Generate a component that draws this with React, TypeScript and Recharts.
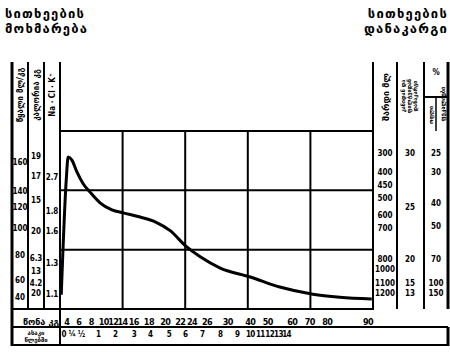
import React from "react";
import { ComposedChart, Line, XAxis, YAxis, ReferenceLine, ReferenceArea, Customized } from "recharts";

// Curve (grid units: x 0..5 columns, y 0..3 rows)
const curveX = [0.02, 0.1, 0.13, 0.19, 0.27, 0.37, 0.48, 0.64, 0.83, 1.01, 1.28, 1.52, 1.76, 2.01, 2.24, 2.56, 3.04, 3.51, 4.04, 4.47, 4.98];
const curveY = [0.24, 2.18, 2.56, 2.51, 2.31, 2.11, 1.97, 1.79, 1.67, 1.62, 1.55, 1.47, 1.32, 1.06, 0.88, 0.69, 0.54, 0.37, 0.25, 0.2, 0.17];

// Bottom scales
const weightLabels = ["4", "6", "8", "10", "12", "14", "16", "18", "20", "22", "24", "26", "30", "40", "50", "60", "70", "80", "90"];
const weightPos = [0.11, 0.3, 0.5, 0.7, 0.85, 1.0, 1.18, 1.42, 1.68, 1.92, 2.11, 2.35, 2.68, 3.04, 3.32, 3.71, 3.99, 4.27, 4.92];
const ageLabels = ["0", "¼", "½", "1", "2", "3", "4", "5", "6", "7", "8", "9", "10", "11", "12", "13", "14"];
const agePos = [0.06, 0.19, 0.34, 0.61, 0.88, 1.18, 1.44, 1.74, 2.0, 2.27, 2.56, 2.83, 3.04, 3.2, 3.35, 3.49, 3.62];

// Left scales
const waterLabels = ["160", "140", "120", "100", "80", "60", "40"];
const waterPos = [2.48, 1.99, 1.72, 1.37, 0.91, 0.49, 0.2];
const calLabels = ["19", "17", "15", "20", "6.3", "13", "4.2", "20"];
const calPos = [2.58, 2.24, 1.84, 1.31, 0.86, 0.64, 0.44, 0.27];
const ionLabels = ["2.7", "1.8", "1.6", "1.3", "1.1"];
const ionPos = [2.22, 1.65, 1.31, 0.78, 0.25];

// Right scales
const urineLabels = ["300", "400", "450", "500", "600", "700", "800", "1000", "1100", "1200"];
const urinePos = [2.63, 2.31, 2.09, 1.87, 1.58, 1.37, 0.84, 0.67, 0.44, 0.27];
const lossLabels = ["30", "25", "20", "15", "13"];
const lossPos = [2.63, 1.72, 0.84, 0.44, 0.27];
const pctLabels = ["25", "30", "40", "50", "70", "100", "150"];
const pctPos = [2.63, 2.31, 1.79, 1.4, 0.84, 0.44, 0.27];

const gridX = [1, 2, 3, 4];
const gridY = [1, 2];

const data = curveX.map((x, i) => ({ x, y: curveY[i] }));

const FONT = "'DejaVu Sans Condensed', 'DejaVu Sans', sans-serif";
const GEO = "'DejaVu Sans', sans-serif";

const label = (pos: number[], labels: string[], v: number) => {
  const i = pos.findIndex((p) => Math.abs(p - v) < 1e-9);
  return i >= 0 ? labels[i] : "";
};

const makeYTick = (cx: number, pos: number[], labels: string[]) => (p: any) => (
  <text x={cx} y={p.y} dy={3} textAnchor="middle" fontFamily={FONT} fontWeight={700} fontSize={8} fill="#000">
    {label(pos, labels, p.payload.value)}
  </text>
);

const makeXTick = (dy: number, size: number, pos: number[], labels: string[]) => (p: any) => (
  <text x={p.x} y={p.y} dy={dy} textAnchor="middle" fontFamily={FONT} fontWeight={700} fontSize={size} letterSpacing={-0.6} fill="#000">
    {label(pos, labels, p.payload.value)}
  </text>
);

const Frame = () => {
  const ln = (x1: number, y1: number, x2: number, y2: number, w = 2) => (
    <line x1={x1} y1={y1} x2={x2} y2={y2} stroke="#000" strokeWidth={w} />
  );
  const rot = (x: number, y: number, text: string, size: number, font = GEO) => (
    <text x={x} y={y} transform={`rotate(-90 ${x} ${y})`} textAnchor="middle" fontFamily={font} fontWeight={700} fontSize={size} fill="#000">
      {text}
    </text>
  );
  const title = { fontFamily: GEO, fontWeight: 700, fontSize: 13, letterSpacing: 1.2, fill: "#000" } as const;
  return (
    <g>
      {/* titles */}
      <text x={5} y={18} {...title}>სითხეების</text>
      <text x={5} y={33} {...title}>მოხმარება</text>
      <text x={448} y={18} textAnchor="end" {...title}>სითხეების</text>
      <text x={448} y={33} textAnchor="end" {...title}>დანაკარგი</text>
      {/* column frame */}
      {ln(12, 62, 12, 346, 3)}
      {ln(28, 62, 28, 309)}
      {ln(44, 62, 44, 309)}
      {ln(60, 62, 60, 346)}
      {ln(373, 62, 373, 309)}
      {ln(397, 62, 397, 309)}
      {ln(424, 62, 424, 309)}
      {ln(448, 62, 448, 309, 3)}
      {ln(448, 327, 448, 346, 3)}
      {ln(12, 309, 373, 309)}
      {ln(12, 327, 448, 327)}
      {ln(12, 345, 448, 345)}
      {ln(424, 97, 448, 97)}
      {ln(436, 97, 436, 131, 1.5)}
      {/* left headers */}
      {rot(23, 95, "წყალი მლ/კგ", 8)}
      {rot(39, 95, "კალორია კგ", 8)}
      {rot(55, 95, "Na · Cl · K⁺", 8, FONT)}
      {/* right headers */}
      {rot(389, 97, "შარდი მლ", 9)}
      {rot(405, 96, "კანიდან და", 5.5)}
      {rot(411, 96, "ფილტვიდან", 5.5)}
      {rot(417, 96, "დანაკარგი", 5.5)}
      <text x={436} y={75} textAnchor="middle" fontFamily={FONT} fontWeight={700} fontSize={8} fill="#000">%</text>
      {rot(433, 115, "ოფლი", 5.5)}
      {rot(445, 104, "ფეკალიები", 6)}
      {/* bottom labels */}
      <text x={41} y={325} textAnchor="middle" fontFamily={GEO} fontWeight={700} fontSize={9} fill="#000">წონა კგ</text>
      <text x={36} y={335} textAnchor="middle" fontFamily={GEO} fontWeight={700} fontSize={6} fill="#000">ასაკი</text>
      <text x={36} y={342} textAnchor="middle" fontFamily={GEO} fontWeight={700} fontSize={6} fill="#000">წლებში</text>
    </g>
  );
};

export default function App() {
  return (
    <div style={{ width: 450, height: 352, background: "#fff" }}>
      <style>{`body{margin:0;background:#fff}`}</style>
      <ComposedChart width={450} height={352} data={data} margin={{ top: 131, right: 2, bottom: 0, left: 12 }}>
        <XAxis xAxisId="b1" dataKey="x" type="number" domain={[0, 5]} allowDataOverflow height={18}
          ticks={weightPos} interval={0} tick={makeXTick(16, 9, weightPos, weightLabels)}
          axisLine={false} tickLine={false} tickSize={0} tickMargin={0} />
        <XAxis xAxisId="b2" dataKey="x" type="number" domain={[0, 5]} allowDataOverflow height={25}
          ticks={agePos} interval={0} tick={makeXTick(10, 8, agePos, ageLabels)}
          axisLine={false} tickLine={false} tickSize={0} tickMargin={0} />
        <YAxis yAxisId="c3" type="number" domain={[0, 3]} allowDataOverflow width={16} ticks={ionPos} interval={0}
          tick={makeYTick(52, ionPos, ionLabels)} axisLine={false} tickLine={false} tickSize={0} tickMargin={0} />
        <YAxis yAxisId="c2" type="number" domain={[0, 3]} allowDataOverflow width={16} ticks={calPos} interval={0}
          tick={makeYTick(36, calPos, calLabels)} axisLine={false} tickLine={false} tickSize={0} tickMargin={0} />
        <YAxis yAxisId="c1" type="number" domain={[0, 3]} allowDataOverflow width={16} ticks={waterPos} interval={0}
          tick={makeYTick(20, waterPos, waterLabels)} axisLine={false} tickLine={false} tickSize={0} tickMargin={0} />
        <YAxis yAxisId="r1" orientation="right" type="number" domain={[0, 3]} allowDataOverflow width={24} ticks={urinePos} interval={0}
          tick={makeYTick(385, urinePos, urineLabels)} axisLine={false} tickLine={false} tickSize={0} tickMargin={0} />
        <YAxis yAxisId="r2" orientation="right" type="number" domain={[0, 3]} allowDataOverflow width={27} ticks={lossPos} interval={0}
          tick={makeYTick(410, lossPos, lossLabels)} axisLine={false} tickLine={false} tickSize={0} tickMargin={0} />
        <YAxis yAxisId="r3" orientation="right" type="number" domain={[0, 3]} allowDataOverflow width={24} ticks={pctPos} interval={0}
          tick={makeYTick(436, pctPos, pctLabels)} axisLine={false} tickLine={false} tickSize={0} tickMargin={0} />
        <ReferenceArea xAxisId="b1" yAxisId="c1" x1={0} x2={5} y1={0} y2={3} fill="none" stroke="#000" strokeWidth={2} />
        {gridX.map((g) => (
          <ReferenceLine key={`gx${g}`} xAxisId="b1" yAxisId="c1" x={g} stroke="#000" strokeWidth={2} />
        ))}
        {gridY.map((g) => (
          <ReferenceLine key={`gy${g}`} xAxisId="b1" yAxisId="c1" y={g} stroke="#000" strokeWidth={2} />
        ))}
        <Line xAxisId="b1" yAxisId="c1" dataKey="y" type="monotone" stroke="#000" strokeWidth={3} dot={false} isAnimationActive={false} />
        <Customized component={<Frame />} />
      </ComposedChart>
    </div>
  );
}
